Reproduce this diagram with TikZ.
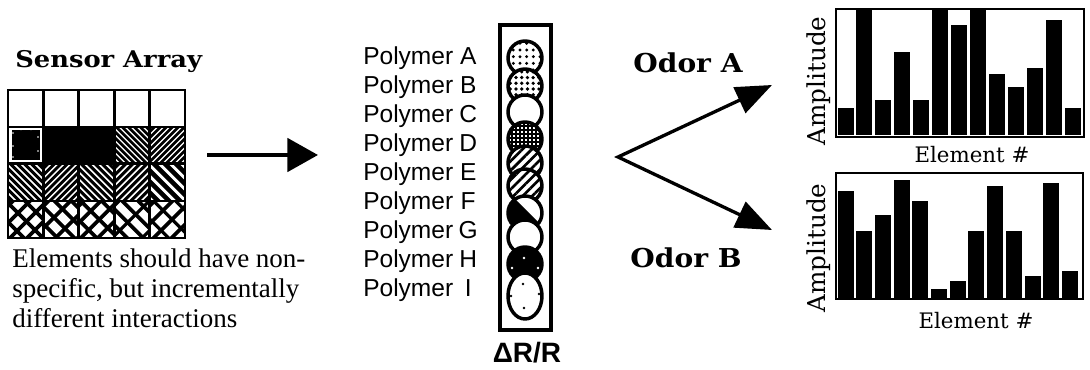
\documentclass[tikz,border=0pt]{standalone}
\usepackage{fontspec}
\setmainfont{Liberation Serif}
\newfontfamily\headfont{DejaVu Serif}
\newfontfamily\labelfont{Liberation Sans}
\usetikzlibrary{arrows.meta,patterns.meta}

% hatch lines running down to the right, clipped to one sensor cell
\newcommand\hatchdown[4]{%
  \begin{scope}
    \clip (#1,#2) rectangle ++(35.4,37.5);
    \foreach \i in {0,...,24}{\draw[line width=#4] ({#1-40+\i*#3},#2) -- ++(48,48);}
  \end{scope}}
% hatch lines running up to the right, clipped to one sensor cell
\newcommand\hatchup[4]{%
  \begin{scope}
    \clip (#1,#2) rectangle ++(35.4,37.5);
    \foreach \i in {0,...,24}{\draw[line width=#4] ({#1-40+\i*#3},{#2+45}) -- ++(48,-48);}
  \end{scope}}
% one polymer film of the column: centre y, vertical radius, inner drawing
\newcommand\film[3]{%
  \fill[white] (525,#1) ellipse [x radius=17,y radius=#2];
  \begin{scope}
    \clip (525,#1) ellipse [x radius=17,y radius=#2];
    #3
  \end{scope}
  \draw[filmline] (525,#1) ellipse [x radius=17,y radius=#2];}

\begin{document}
\begin{tikzpicture}[x=0.75pt,y=-0.75pt,
  gridline/.style={line width=2.1pt},
  filmline/.style={line width=2.6pt},
  colbox/.style={line width=2.8pt},
  chartbox/.style={line width=1.5pt},
  flow/.style={line width=3pt,-{Triangle[length=23pt,width=25pt]}},
  fork/.style={line width=2.5pt,line join=miter,
    {Triangle[length=27pt,width=21pt]}-{Triangle[length=27pt,width=21pt]}},
  title/.style={font=\headfont\bfseries\fontsize{17.25}{20}\selectfont,anchor=base west,xscale=1.12,inner sep=0pt},
  odor/.style={font=\headfont\bfseries\fontsize{19.5}{22}\selectfont,anchor=base,xscale=1.08,inner sep=0pt},
  note/.style={font=\fontsize{20.25}{22.5}\selectfont,anchor=base west,inner sep=0pt},
  poly/.style={font=\labelfont\fontsize{18.4}{20}\selectfont,anchor=base west,inner sep=0pt},
  drr/.style={font=\labelfont\bfseries\fontsize{21}{24}\selectfont,anchor=base,inner sep=0pt},
  axisy/.style={font=\headfont\fontsize{18.5}{20}\selectfont,anchor=base,rotate=90,inner sep=0pt},
  axisx/.style={font=\headfont\fontsize{16}{18}\selectfont,anchor=base,inner sep=0pt}]
\useasboundingbox (0,0) rectangle (1090,370);

% ---------- sensor array ----------
\node[title] (sensorT) at (15,68) {Sensor Array};

% row 2
\fill (11.5,130.5) rectangle (39.9,160);
\foreach \p in {(13,133),(13,146),(13,157),(21,129.5),(31,129.5),(38,137),(38,151),(24,161),(34,161)}
  \fill[white] \p circle (0.9);
\fill (43.4,127) rectangle (114.2,163.5);
\hatchdown{114.2}{127}{6}{2pt}
\hatchup{149.6}{127}{6}{2pt}
% row 3
\hatchdown{8}{163.5}{7}{2.2pt}
\hatchup{43.4}{163.5}{6.5}{2.1pt}
\hatchdown{78.8}{163.5}{7}{2.2pt}
\hatchup{114.2}{163.5}{7}{2.2pt}
\hatchdown{149.6}{163.5}{11}{3.5pt}
% row 4
\hatchup{8}{201}{17}{2.8pt}\hatchdown{8}{201}{19}{2.8pt}
\hatchdown{43.4}{201}{17}{2.8pt}\hatchup{43.4}{201}{22}{2.8pt}
\hatchup{78.8}{201}{17}{2.8pt}\hatchdown{78.8}{201}{21}{2.8pt}
\hatchdown{114.2}{201}{16}{2.8pt}\hatchup{114.2}{201}{30}{2.4pt}
\hatchup{149.6}{201}{18}{2.8pt}\hatchdown{149.6}{201}{22}{2.4pt}

% grid
\draw[gridline] (8,90) rectangle (185,238);
\foreach \x in {43.4,78.8,114.2,149.6} \draw[gridline] (\x,90) -- (\x,238);
\foreach \y in {127,163.5,201} \draw[gridline] (8,\y) -- (185,\y);

\node[note] (note1) at (12,268) {Elements should have non-};
\node[note] (note2) at (12,298) {specific, but incrementally};
\node[note] (note3) at (12,328) {different interactions};

% ---------- arrow to the polymer column ----------
\coordinate (arrS) at (207,155);
\coordinate (arrE) at (318,155);
\draw[flow] (arrS) -- (arrE);

% ---------- polymer labels ----------
\foreach \l [count=\k from 0] in {A,B,C,D,E,F,G,H,I}
  \node[poly] (poly\l) at (363,{65+29*\k}) {Polymer \makebox[0.667em][c]{\l}};

% ---------- polymer column ----------
\draw[colbox] (500,25) rectangle (551,330);
\film{58}{17}{\fill[pattern={Dots[distance=5pt,radius=1.2pt]}] (500,20) rectangle (551,100);}
\film{86}{17}{\fill[pattern={Dots[distance=4.3pt,radius=1.4pt]}] (500,50) rectangle (551,120);}
\film{112}{17}{}
\film{139}{17}{\fill[pattern={Hatch[distance=3pt,line width=1.1pt]}] (500,100) rectangle (551,170);}
\film{163}{17}{\fill[pattern={Lines[angle=45,distance=5pt,line width=2pt]}] (500,130) rectangle (551,200);}
\film{186}{17}{\fill[pattern={Lines[angle=45,distance=5pt,line width=2pt]}] (500,150) rectangle (551,220);}
\film{213}{17}{\fill (500,190) -- (512,196) -- (548,232) -- (500,232) -- cycle; \draw[white,line width=4pt] (516,196) -- (550,226);}
\film{237}{17}{}
\film{264}{17}{\fill (500,240) rectangle (551,290);
  \foreach \p in {(524,258),(512,268),(538,268)} \fill[white] \p circle (1.3);}
\film{296}{23}{\foreach \p in {(523,284),(511,296),(539,294),(524,308)} \fill \p circle (1.4);}

\node[drr] (drr) at (527,363) {ΔR/R};

% ---------- odor fork ----------
\node[odor] (odorA) at (688,73) {Odor A};
\node[odor] (odorB) at (686,268) {Odor B};
\coordinate (vtx) at (618,157);
\coordinate (tipA) at (772,85);
\coordinate (tipB) at (772,230);
\draw[fork] (tipA) -- (vtx) -- (tipB);

% ---------- response patterns ----------
\foreach \t [count=\i from 0] in {108.3,9.3,100,52.3,100,9.3,25.3,9.3,74,87.3,68.3,20,108.3}
  \fill ({837.5+\i*18.95},\t) rectangle ++(16,{135.5-\t});
\draw[chartbox] (836,9) rectangle (1084,137);
\node[axisy] (ampA) at (825,81) {Amplitude};
\node[axisx] (elemA) at (972,163) {Element \#};

\foreach \t [count=\i from 0] in {190.7,231,215,180,201,289,281,231,185.7,231,276,182.7,270.7}
  \fill ({837.5+\i*18.7},\t) rectangle ++(16,{298-\t});
\draw[chartbox] (836,173) rectangle (1083,299);
\node[axisy] (ampB) at (825,248) {Amplitude};
\node[axisx] (elemB) at (976,329) {Element \#};
\end{tikzpicture}
\end{document}
